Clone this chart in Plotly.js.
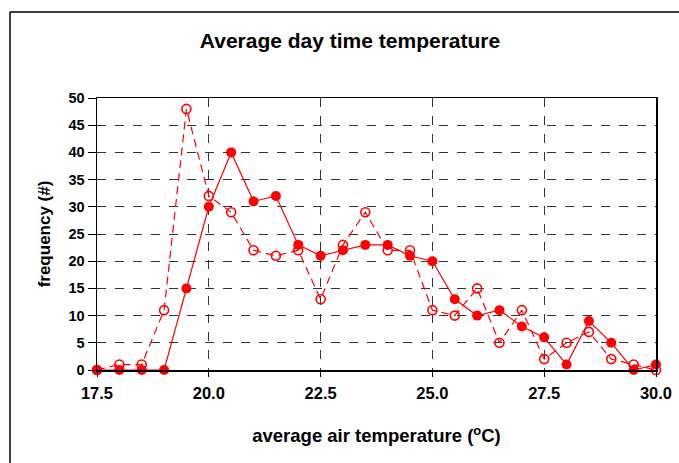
<!DOCTYPE html>
<html>
<head>
<meta charset="utf-8">
<script src="https://cdn.plot.ly/plotly-3.0.1.min.js"></script>
<style>
  html, body { margin: 0; padding: 0; background: #fff; }
  #chart { width: 679px; height: 463px; }
</style>
</head>
<body>
<div id="chart"></div>
<script>
// Temperature bins (°C)
const temperature = [17.5, 18.0, 18.5, 19.0, 19.5, 20.0, 20.5, 21.0, 21.5, 22.0, 22.5, 23.0, 23.5,
                     24.0, 24.5, 25.0, 25.5, 26.0, 26.5, 27.0, 27.5, 28.0, 28.5, 29.0, 29.5, 30.0];
// Frequency counts, first series (filled markers, solid line)
const freqSolid = [0, 0, 0, 0, 15, 30, 40, 31, 32, 23, 21, 22, 23,
                   23, 21, 20, 13, 10, 11, 8, 6, 1, 9, 5, 0, 1];
// Frequency counts, second series (open markers, dashed line)
const freqOpen = [0, 1, 1, 11, 48, 32, 29, 22, 21, 22, 13, 23, 29,
                  22, 22, 11, 10, 15, 5, 11, 2, 5, 7, 2, 1, 0];
const xTickVals = [17.5, 20.0, 22.5, 25.0, 27.5, 30.0];
const xTickText = ['17.5', '20.0', '22.5', '25.0', '27.5', '30.0'];

const red = '#ff0000';
const W = 679, H = 463;
const m = { l: 97, r: 23, t: 98, b: 93 };
const pw = W - m.l - m.r, ph = H - m.t - m.b;
// pixel -> paper coordinates for the outer frame
const px = x => (x - m.l) / pw;
const py = y => (H - m.b - y) / ph;

const traces = [
  {
    x: temperature, y: freqOpen, type: 'scatter', mode: 'lines+markers',
    line: { color: red, width: 1.2, dash: '8px,5px' },
    marker: { symbol: 'circle-open', size: 9, color: red, line: { color: red, width: 1.6 } },
    cliponaxis: false, showlegend: false
  },
  {
    x: temperature, y: freqSolid, type: 'scatter', mode: 'lines+markers',
    line: { color: red, width: 1.2 },
    marker: { symbol: 'circle', size: 10, color: red },
    cliponaxis: false, showlegend: false
  }
];

const fam = 'Liberation Sans, Arial, sans-serif';

const layout = {
  width: W, height: H,
  margin: m,
  paper_bgcolor: '#fff', plot_bgcolor: '#fff',
  font: { family: fam, color: '#000' },
  title: {
    text: '<b>Average day time temperature</b>',
    font: { size: 21, color: '#000', family: fam },
    x: 350 / W, xref: 'container', xanchor: 'center',
    y: 1 - 41 / H, yref: 'container', yanchor: 'middle'
  },
  xaxis: {
    range: [17.5, 30.0], tickvals: xTickVals, ticktext: xTickText,
    ticks: 'outside', ticklen: 5, tickcolor: '#000', tickwidth: 1,
    tickfont: { family: fam, size: 16.5, color: '#000', weight: 'bold' },
    ticklabelstandoff: 3,
    showgrid: true, gridcolor: '#333', griddash: 'dash', gridwidth: 1,
    zeroline: false, showline: true, linecolor: '#000', linewidth: 1.5, mirror: true,
    title: { text: '<b>average air temperature (<sup>o</sup>C)</b>', font: { size: 18.5, color: '#000', family: fam }, standoff: 28 },
    automargin: false
  },
  yaxis: {
    range: [0, 50], dtick: 5,
    ticks: 'outside', ticklen: 8, tickcolor: '#000', tickwidth: 1,
    tickfont: { family: fam, size: 14.5, color: '#000', weight: 'bold' },
    showgrid: true, gridcolor: '#333', griddash: 'dash', gridwidth: 1,
    zeroline: false, showline: true, linecolor: '#000', linewidth: 1.5, mirror: true,
    title: { text: '<b>frequency (#)</b>', font: { size: 17, color: '#000', family: fam }, standoff: 13 },
    automargin: false
  },
  shapes: [
    // outer chart frame (top and left edges)
    { type: 'line', xref: 'paper', yref: 'paper', x0: px(10), x1: px(W + 5), y0: py(12), y1: py(12),
      line: { color: '#000', width: 1.5 } },
    { type: 'line', xref: 'paper', yref: 'paper', x0: px(10), x1: px(10), y0: py(12), y1: py(H + 5),
      line: { color: '#000', width: 1.5 } }
  ]
};

Plotly.newPlot('chart', traces, layout, { staticPlot: true, displayModeBar: false });
</script>
</body>
</html>
